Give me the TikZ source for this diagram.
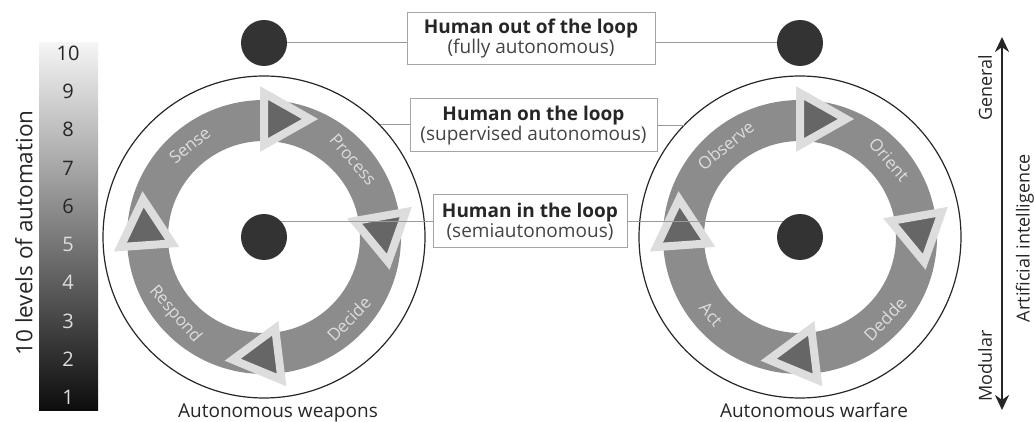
\documentclass[tikz,border=0pt]{standalone}
\usepackage{fontspec}
\setmainfont{Open Sans}
\usepackage{tikz}
\usepackage{xcolor}
\usetikzlibrary{shapes.geometric, arrows.meta, positioning}

\definecolor{ringgray}{HTML}{8C8C8C}
\definecolor{tridark}{HTML}{666666}
\definecolor{trilight}{HTML}{DDDDDD}
\definecolor{dotdark}{HTML}{333333}
\definecolor{boxline}{HTML}{A5A5A5}
\definecolor{linkgray}{HTML}{999999}
\definecolor{textdark}{HTML}{262626}
\definecolor{subgray}{HTML}{444444}

\tikzset{
    loopbox/.style={draw=boxline, line width=1pt, align=center, inner sep=0pt,
        minimum height=52pt, font=\fontsize{19}{20}\selectfont, text=textdark},
    humandot/.style={circle, fill=dotdark, minimum size=46pt, inner sep=0pt},
    bigcircle/.style={circle, draw=black!85, line width=1.2pt, minimum size=322pt, inner sep=0pt},
    ringlabel/.style={text=trilight, font=\fontsize{17}{17}\selectfont},
    looptri/.style={fill=tridark, draw=trilight, line width=8pt},
    link/.style={draw=linkgray, line width=1pt},
    levelnum/.style={font=\fontsize{20}{20}\selectfont},
    sidelabel/.style={rotate=90, text=textdark, font=\fontsize{18}{18}\selectfont},
    caption/.style={anchor=base, text=textdark, font=\fontsize{19}{19}\selectfont},
}

\begin{document}
\begin{tikzpicture}[x=1pt, y=1pt]
    \useasboundingbox (0,0) rectangle (1034,421);

    % Levels of automation
    \shade[top color=gray!8, bottom color=black!95] (39,11) rectangle (98,378);
    \foreach \n in {1,...,5}
        \node[levelnum, text=trilight] (lvl\n) at (68,{38.3*\n-15}) {\n};
    \foreach \n in {6,...,10}
        \node[levelnum, text=textdark] (lvl\n) at (68,{38.3*\n-15}) {\n};
    \node[sidelabel, font=\fontsize{22.5}{22.5}\selectfont] (levels) at (24,188) {10 levels of automation};

    % Human boxes
    \node[loopbox, minimum width=248pt] (b1) at (531,382)
        {\textbf{Human out of the loop}\\\textcolor{subgray}{(fully autonomous)}};
    \node[loopbox, minimum width=247pt, minimum height=53pt] (b2) at (533.5,295.5)
        {\textbf{Human on the loop}\\\textcolor{subgray}{(supervised autonomous)}};
    \node[loopbox, minimum width=194pt, minimum height=53pt] (b3) at (530,199.5)
        {\textbf{Human in the loop}\\\textcolor{subgray}{(semiautonomous)}};

    % Loops
    \foreach \cx/\nm/\sa/\sb/\sc/\sd/\capt in {264/l/Sense/Process/Decide/Respond/Autonomous weapons,
                                              800/r/Observe/Orient/Dedde/Act/Autonomous warfare} {
        \node[bigcircle] (\nm-circ) at (\cx,184) {};
        \fill[ringgray, even odd rule] (\cx,184) circle (137) (\cx,184) circle (96);
        \foreach \ang in {90,10,-83,184}
            \filldraw[looptri, shift={(\cx,184)}, rotate={\ang-90}, shift={(0,118)}]
                (0,-26) -- (0,26) -- (46,0) -- cycle;
        \node[ringlabel, rotate=39] (\nm-s1) at ([shift={(129:118)}]\cx,184) {\sa};
        \node[ringlabel, rotate=-49] (\nm-s2) at ([shift={(41:118)}]\cx,184) {\sb};
        \node[ringlabel, rotate=46] (\nm-s3) at ([shift={(-44:118)}]\cx,184) {\sc};
        \node[ringlabel, rotate=-49] (\nm-s4) at ([shift={(-139:118)}]\cx,184) {\sd};
        \node[humandot] (\nm-top) at (\cx,378) {};
        \node[caption] (\nm-cap) at ({\cx+14},4) {\capt};
    }

    % Connectors
    \draw[link] (l-top.east) -- (l-top.east -| b1.west);
    \draw[link] (b1.east |- r-top.west) -- (r-top.west);
    \draw[link] (l-circ.44) -- (l-circ.44 -| b2.west);
    \draw[link] (b2.east) -- (b2.east -| r-circ.136);
    \draw[link] (b3.west) -- (b3.west -| l-circ.center);
    \draw[link] (b3.east) -- (b3.east -| r-circ.center);

    \foreach \nm in {l,r}
        \node[humandot] (\nm-dot) at (\nm-circ.center) {};

    % Artificial intelligence axis
    \coordinate (ai-top) at (1002,384);
    \coordinate (ai-bot) at (1002,11);
    \draw[{Stealth[length=15pt,width=14pt]}-{Stealth[length=15pt,width=14pt]}, line width=2.4pt, textdark]
        (ai-bot) -- (ai-top);
    \node[sidelabel] (general) at (985,333) {General};
    \node[sidelabel] (modular) at (985,55) {Modular};
    \node[sidelabel] (ai) at (1025,183) {Artificial intelligence};
\end{tikzpicture}
\end{document}
